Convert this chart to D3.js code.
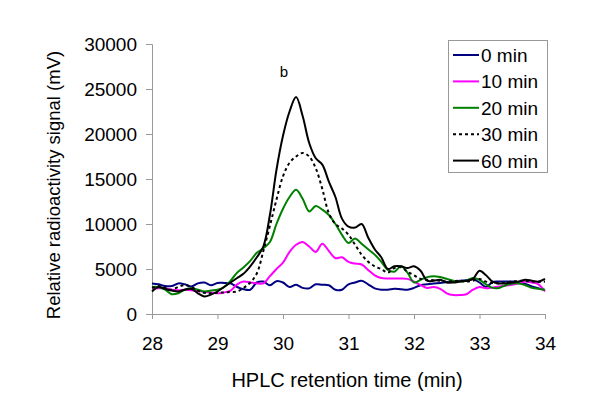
<!DOCTYPE html>
<html>
<head>
<meta charset="utf-8">
<script src="https://cdn.jsdelivr.net/npm/d3@7"></script>
<style>
  body { margin: 0; background: #fff; }
  svg { font-family: "Liberation Sans", Arial, sans-serif; }
</style>
</head>
<body>
<div id="chart"></div>
<script>
// retention time grid, 28.0 .. 34.0 min step 0.1
const times = d3.range(0, 61).map(i => +(28 + i * 0.1).toFixed(1));

const min0 = [3400, 3300, 3100, 3100, 3400, 3300, 3050, 3400, 3500, 3200,
  3450, 3450, 3400, 3000, 2750, 2700, 3500, 3600, 3200, 3650,
  3500, 3000, 3250, 2900, 2850, 3300, 3250, 3200, 2700, 2700,
  3300, 3500, 3700, 3300, 2850, 2700, 2700, 2800, 2750, 2700,
  2900, 3200, 3300, 3400, 3450, 3550, 3600, 3700, 3750, 3850,
  3500, 3000, 3550, 3600, 3600, 3600, 3500, 3350, 3050, 2850, 2650];

const min10 = [2850, 2850, 2850, 2700, 2650, 2700, 2650, 2550, 2450, 2400,
  2300, 2400, 2600, 3300, 3600, 3500, 3400, 3400, 4200, 5000,
  5700, 6900, 7700, 8000, 7500, 6900, 7800, 7000, 6200, 6300,
  5800, 5600, 5500, 4900, 4300, 4000, 3950, 3950, 3950, 3900,
  3600, 3200, 2900, 3000, 2800, 2300, 2100, 2100, 2200, 2700,
  3000, 2850, 2950, 3050, 3150, 3250, 3400, 3600, 3500, 3300, 2500];

const min20 = [3000, 3000, 2700, 2200, 2300, 2700, 2850, 2700, 2500, 2600,
  2700, 3000, 3700, 4600, 5200, 5900, 6800, 7300, 8000, 10000,
  11700, 13000, 13800, 12800, 11400, 12000, 11600, 11000, 10000, 8800,
  7900, 8400, 7800, 7200, 6600, 5800, 4900, 4700, 5300, 4600,
  3500, 3800, 4100, 4200, 4100, 3900, 3700, 3600, 3700, 4000,
  3800, 3300, 2900, 2900, 3200, 3400, 3400, 3200, 2900, 2800, 2700];

const min30 = [2900, 3100, 2900, 2700, 3000, 3200, 3000, 2600, 2350, 2300,
  2350, 2400, 2450, 2500, 2900, 3500, 4500, 7000, 9800, 12700,
  15300, 16800, 17500, 17900, 17500, 16200, 13900, 11200, 10000, 9500,
  8800, 7700, 6600, 5800, 5300, 5000, 4600, 5100, 5200, 4700,
  4300, 3900, 3800, 3750, 3700, 3600, 3650, 3700, 3600, 3700,
  3900, 3600, 3450, 3400, 3500, 3600, 3700, 3650, 3600, 3550, 3600];

const min60 = [2500, 3000, 2800, 2600, 2500, 2700, 2800, 2300, 1950, 2150,
  2500, 3000, 3500, 4000, 4500, 5300, 6300, 7500, 11000, 16000,
  19800, 22500, 24100, 22000, 19000, 17300, 16600, 14700, 13000, 10600,
  9700, 9600, 10000, 8500, 7200, 6300, 5000, 5300, 5300, 5100,
  5300, 4800, 3700, 3700, 3800, 3500, 3500, 3600, 3700, 3900,
  4800, 4300, 3600, 3400, 3400, 3500, 3600, 3800, 3700, 3600, 3900];

const seriesNames = ['0 min', '10 min', '20 min', '30 min', '60 min'];
const seriesValues = [min0, min10, min20, min30, min60];
const xTicks = [28, 29, 30, 31, 32, 33, 34];
const yTicks = [0, 5000, 10000, 15000, 20000, 25000, 30000];

const colors = ['#000080', '#ff00ff', '#008000', '#000000', '#000000'];
const dashes = [null, null, null, '3,3', null];

const width = 600;
const height = 402;
const margin = {top: 44, right: 55, bottom: 88, left: 152};

const svg = d3.select('#chart')
              .append('svg')
              .attr('width', width)
              .attr('height', height);

const xScale = d3.scaleLinear()
                 .domain([28, 34])
                 .range([margin.left, width - margin.right]);

const yScale = d3.scaleLinear()
                 .domain([0, 30000])
                 .range([height - margin.bottom, margin.top]);

// x axis
const xAxis = svg.append('g')
   .attr('transform', `translate(0, ${yScale(0)})`)
   .call(d3.axisBottom(xScale).tickValues(xTicks).tickFormat(d3.format('d'))
           .tickSize(5).tickPadding(18));

// y axis
const yAxis = svg.append('g')
   .attr('transform', `translate(${xScale(28)}, 0)`)
   .call(d3.axisLeft(yScale).tickValues(yTicks).tickFormat(d3.format('d'))
           .tickSize(6).tickPadding(9));

[xAxis, yAxis].forEach(ax => {
  ax.selectAll('path, line').attr('stroke', '#999');
  ax.selectAll('text').attr('fill', '#000').style('font-size', '19px')
    .style('font-family', '"Liberation Sans", Arial, sans-serif');
});

// axis titles
svg.append('text')
   .attr('x', 347)
   .attr('y', 387)
   .attr('text-anchor', 'middle')
   .style('font-size', '20px')
   .text('HPLC retention time (min)');

svg.append('text')
   .attr('transform', 'translate(60, 185) rotate(-90)')
   .attr('text-anchor', 'middle')
   .style('font-size', '18.5px')
   .text('Relative radioactivity signal (mV)');

// series lines
const line = d3.line()
               .x((d, i) => xScale(times[i]))
               .y(d => yScale(d))
               .curve(d3.curveCatmullRom);

seriesValues.forEach((vals, k) => {
  svg.append('path')
     .datum(vals)
     .attr('fill', 'none')
     .attr('stroke', colors[k])
     .attr('stroke-width', 2)
     .attr('stroke-dasharray', dashes[k])
     .attr('d', line);
});

// peak label
svg.append('text')
   .attr('x', 284)
   .attr('y', 77)
   .attr('text-anchor', 'middle')
   .style('font-size', '15px')
   .text('b');

// legend
const legend = svg.append('g');
legend.append('rect')
      .attr('x', 448.5)
      .attr('y', 40.5)
      .attr('width', 99)
      .attr('height', 132)
      .attr('fill', '#fff')
      .attr('stroke', '#999');

seriesNames.forEach((name, k) => {
  const y = 55 + k * 26.4;
  legend.append('line')
        .attr('x1', 453).attr('x2', 479)
        .attr('y1', y).attr('y2', y)
        .attr('stroke', colors[k])
        .attr('stroke-width', 2)
        .attr('stroke-dasharray', dashes[k]);
  legend.append('text')
        .attr('x', 481)
        .attr('y', y + 7)
        .style('font-size', '19px')
        .text(name);
});
</script>
</body>
</html>
